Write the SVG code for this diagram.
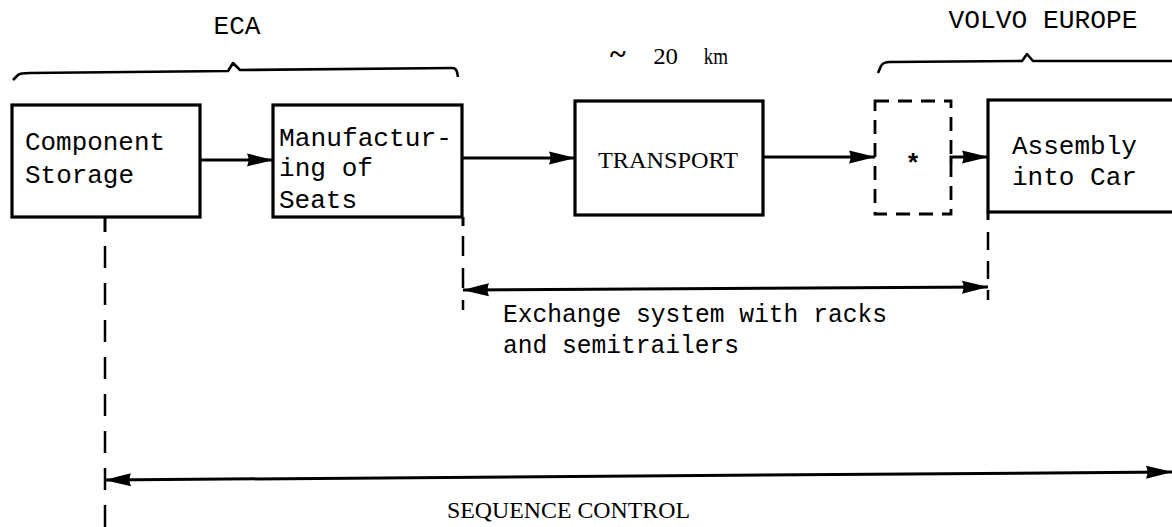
<svg xmlns="http://www.w3.org/2000/svg" width="1172" height="527" viewBox="0 0 1172 527">
<style>
.box{fill:#fff;stroke:#000;stroke-width:3.2}
.dbox{fill:none;stroke:#000;stroke-width:2.8;stroke-dasharray:14 9}
.ln{fill:none;stroke:#000;stroke-width:3}
.dash{fill:none;stroke:#000;stroke-width:2.5;stroke-dasharray:22 15}
.brace{fill:none;stroke:#000;stroke-width:2.6;stroke-linejoin:round}
.mono{font-family:"Liberation Mono","DejaVu Sans Mono",monospace;font-size:26px;fill:#000}
.serif{font-family:"Liberation Serif","DejaVu Serif",serif;font-size:24px;fill:#000}
</style>
<defs>
<marker id="ah" markerUnits="userSpaceOnUse" markerWidth="28" markerHeight="16" refX="26" refY="8" orient="auto-start-reverse">
<path d="M0,1.5 Q13,4.5 26,8 Q13,11.5 0,14.5 Q3,8 0,1.5 z" fill="#000"/>
</marker>
</defs>
<rect width="1172" height="527" fill="#fff"/>

<g id="labels">
<text class="mono" x="237" y="34" text-anchor="middle">ECA</text>
<text class="mono" x="1043" y="28" text-anchor="middle" textLength="189" lengthAdjust="spacingAndGlyphs">VOLVO EUROPE</text>
<text class="serif" y="64" font-size="21"><tspan x="610" font-weight="bold" font-size="30">~</tspan><tspan x="647" textLength="31" lengthAdjust="spacingAndGlyphs"> 20</tspan><tspan x="699" textLength="29" lengthAdjust="spacingAndGlyphs"> km</tspan></text>
</g>

<g id="braces">
<path class="brace" d="M13,80 L18,75 Q20,73 30,73 L228,71 L233,63 L240,70 L452,68 Q456,68 457,72 L458,77"/>
<path class="brace" d="M878,73 L881,66 Q883,62 890,62 L1022,61 L1027,54 L1033,61 L1172,61"/>
</g>

<g id="node-component-storage">
<rect class="box" x="12" y="105" width="188" height="112"/>
<text class="mono" x="25" y="150" textLength="140" lengthAdjust="spacingAndGlyphs">Component</text>
<text class="mono" x="25" y="183" textLength="109" lengthAdjust="spacingAndGlyphs">Storage</text>
</g>

<g id="node-manufacturing">
<rect class="box" x="273" y="105" width="189" height="112"/>
<text class="mono" x="279" y="146" textLength="173" lengthAdjust="spacingAndGlyphs">Manufactur-</text>
<text class="mono" x="279" y="176" textLength="94" lengthAdjust="spacingAndGlyphs">ing of</text>
<text class="mono" x="279" y="208" textLength="78" lengthAdjust="spacingAndGlyphs">Seats</text>
</g>

<g id="node-transport">
<rect class="box" x="575" y="101" width="188" height="114"/>
<text class="serif" x="598" y="168" font-size="27" textLength="140" lengthAdjust="spacingAndGlyphs">TRANSPORT</text>
</g>

<g id="node-buffer">
<rect class="dbox" x="875" y="101" width="76" height="113"/>
<text class="mono" x="913" y="172" text-anchor="middle" font-weight="bold" font-size="32">*</text>
</g>

<g id="node-assembly">
<rect class="box" x="988" y="100" width="200" height="112"/>
<text class="mono" x="1012" y="154" textLength="125" lengthAdjust="spacingAndGlyphs">Assembly</text>
<text class="mono" x="1012" y="185" textLength="125" lengthAdjust="spacingAndGlyphs">into Car</text>
</g>

<g id="connectors">
<line class="ln" x1="200" y1="160" x2="273" y2="160" marker-end="url(#ah)"/>
<line class="ln" x1="462" y1="158" x2="575" y2="158" marker-end="url(#ah)"/>
<line class="ln" x1="763" y1="157" x2="875" y2="157" marker-end="url(#ah)"/>
<path class="ln" d="M951,163 L951,157 L988,157" marker-end="url(#ah)"/>
<line class="ln" x1="105" y1="217" x2="105" y2="232"/>
<line class="dash" x1="105" y1="246" x2="105" y2="527"/>
<line class="ln" x1="463" y1="217" x2="463" y2="226"/>
<line class="dash" x1="463" y1="236" x2="463" y2="310" style="stroke-dasharray:20 12"/>
<line class="ln" x1="988" y1="212" x2="988" y2="220"/>
<line class="dash" x1="988" y1="232" x2="988" y2="300" style="stroke-dasharray:18 11"/>
<line class="ln" x1="463" y1="290" x2="988" y2="287" marker-start="url(#ah)" marker-end="url(#ah)"/>
<line class="ln" x1="105" y1="480" x2="1172" y2="472" marker-start="url(#ah)" marker-end="url(#ah)"/>
</g>

<g id="connector-labels">
<text class="mono" x="503" y="322" textLength="384" lengthAdjust="spacingAndGlyphs">Exchange system with racks</text>
<text class="mono" x="503" y="353" textLength="236" lengthAdjust="spacingAndGlyphs">and semitrailers</text>
<text class="serif" x="447" y="518" font-size="22" textLength="243" lengthAdjust="spacingAndGlyphs">SEQUENCE CONTROL</text>
</g>
</svg>
